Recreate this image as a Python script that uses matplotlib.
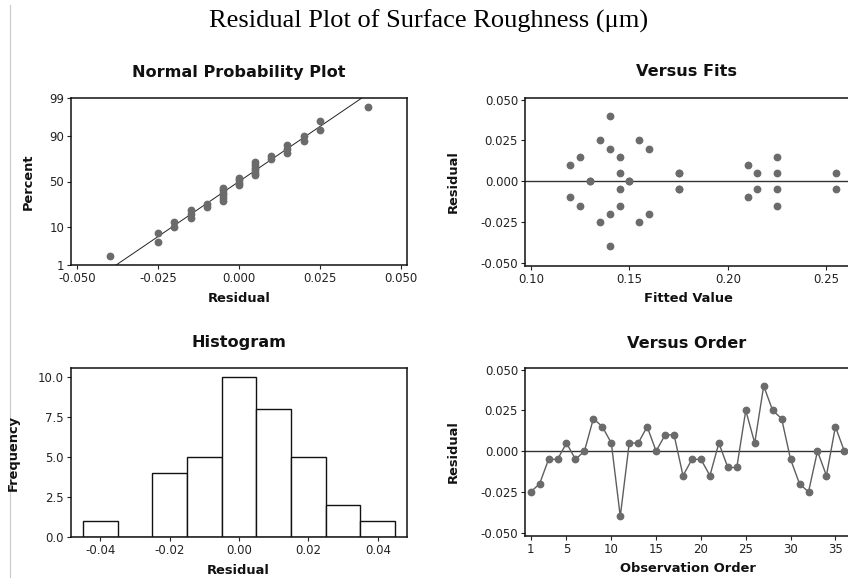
import matplotlib
matplotlib.use('Agg')
import matplotlib.pyplot as plt
import numpy as np
from statistics import NormalDist
from matplotlib.lines import Line2D

plt.rcParams['font.family'] = 'DejaVu Sans'
plt.rcParams['axes.unicode_minus'] = False

# residuals in observation order
order_residuals = [-0.025, -0.020, -0.005, -0.005, 0.005, -0.005, 0.000, 0.020, 0.015, 0.005,
                   -0.040, 0.005, 0.005, 0.015, 0.000, 0.010, 0.010, -0.015, -0.005, -0.005,
                   -0.015, 0.005, -0.010, -0.010, 0.025, 0.005, 0.040, 0.025, 0.020, -0.005,
                   -0.020, -0.025, 0.000, -0.015, 0.015, 0.000]

# fitted values and their residuals (Versus Fits panel)
fitted_values = [0.120, 0.120, 0.125, 0.125, 0.130, 0.130, 0.135, 0.135,
                 0.140, 0.140, 0.140, 0.140, 0.145, 0.145, 0.145, 0.145,
                 0.150, 0.150, 0.155, 0.155, 0.160, 0.160, 0.175, 0.175,
                 0.175, 0.175, 0.210, 0.210, 0.215, 0.215, 0.225, 0.225,
                 0.225, 0.225, 0.255, 0.255]
fit_residuals = [0.010, -0.010, 0.015, -0.015, 0.000, 0.000, 0.025, -0.025,
                 0.040, 0.020, -0.020, -0.040, 0.015, 0.005, -0.005, -0.015,
                 0.000, 0.000, 0.025, -0.025, 0.020, -0.020, 0.005, -0.005,
                 0.005, -0.005, 0.010, -0.010, 0.005, -0.005, 0.015, 0.005,
                 -0.005, -0.015, 0.005, -0.005]

# histogram bins
hist_centers = [-0.04, -0.03, -0.02, -0.01, 0.00, 0.01, 0.02, 0.03, 0.04]
hist_counts = [1, 0, 4, 5, 10, 8, 5, 2, 1]
hist_width = 0.01

prob_ticks = [1, 10, 50, 90, 99]

W, H = 848, 578
fig = plt.figure(figsize=(W / 100, H / 100), dpi=100)

def px_axes(l, t, r, b):
    return fig.add_axes([l / W, 1 - b / H, (r - l) / W, (b - t) / H])

def ftext(x, y, s, **kw):
    fig.text(x / W, 1 - y / H, s, ha='center', va='center', **kw)

def style(ax):
    for sp in ax.spines.values():
        sp.set_linewidth(1.1)
        sp.set_color('#111111')
    ax.tick_params(direction='out', length=3, width=0.8, labelsize=8.5,
                   pad=2, colors='#222222')

pt_color = '#6b6b6b'
ms = 4.6
nd = NormalDist()

# Normal probability plot
ax1 = px_axes(71, 98, 407, 265)
res = np.sort(np.array(order_residuals))
n = len(res)
pos = (np.arange(1, n + 1) - 0.3) / (n + 0.4)
zs = np.array([nd.inv_cdf(p) for p in pos])
zlo, zhi = nd.inv_cdf(0.01), nd.inv_cdf(0.99)
mu, sd = res.mean(), res.std(ddof=1)
zline = np.linspace(zlo, zhi, 50)
ax1.plot(mu + sd * zline, zline, color='#222222', lw=0.7)
ax1.plot(res, zs, 'o', color=pt_color, ms=ms, mec=pt_color)
ax1.set_xlim(-0.052, 0.052)
ax1.set_ylim(zlo, zhi)
ax1.set_yticks([nd.inv_cdf(p / 100) for p in prob_ticks])
ax1.set_yticklabels([str(p) for p in prob_ticks])
ax1.set_xticks([-0.05, -0.025, 0, 0.025, 0.05])
ax1.set_xticklabels(['-0.050', '-0.025', '0.000', '0.025', '0.050'])
style(ax1)

# Versus fits
ax2 = px_axes(525, 98, 850, 266)
ax2.axhline(0, color='#333333', lw=1.0)
ax2.plot(fitted_values, fit_residuals, 'o', color=pt_color, ms=ms, mec=pt_color)
ax2.set_xlim(0.097, 0.262)
ax2.set_ylim(-0.052, 0.051)
ax2.set_xticks([0.10, 0.15, 0.20, 0.25])
ax2.set_xticklabels(['0.10', '0.15', '0.20', '0.25'])
ax2.set_yticks([-0.05, -0.025, 0, 0.025, 0.05])
ax2.set_yticklabels(['-0.050', '-0.025', '0.000', '0.025', '0.050'])
style(ax2)

# Histogram
ax3 = px_axes(71, 368, 407, 537)
ax3.bar(hist_centers, hist_counts, width=hist_width, color='white',
        edgecolor='#111111', linewidth=1.0)
ax3.set_xlim(-0.0484, 0.0484)
ax3.set_ylim(0, 10.56)
ax3.set_xticks([-0.04, -0.02, 0, 0.02, 0.04])
ax3.set_xticklabels(['-0.04', '-0.02', '0.00', '0.02', '0.04'])
ax3.set_yticks([0, 2.5, 5, 7.5, 10])
ax3.set_yticklabels(['0.0', '2.5', '5.0', '7.5', '10.0'])
style(ax3)

# Versus order
ax4 = px_axes(525, 368, 850, 536)
obs = np.arange(1, len(order_residuals) + 1)
ax4.axhline(0, color='#333333', lw=1.0)
ax4.plot(obs, order_residuals, '-o', color='#5e5e5e', lw=1.0, ms=ms,
         mfc=pt_color, mec=pt_color)
ax4.set_xlim(0.37, 36.63)
ax4.set_ylim(-0.052, 0.051)
ax4.set_xticks([1, 5, 10, 15, 20, 25, 30, 35])
ax4.set_yticks([-0.05, -0.025, 0, 0.025, 0.05])
ax4.set_yticklabels(['-0.050', '-0.025', '0.000', '0.025', '0.050'])
style(ax4)

# titles and labels
ftext(429, 21, 'Residual Plot of Surface Roughness (\u03bcm)',
      family='Liberation Serif', fontsize=19)
tkw = dict(fontsize=11.6, fontweight='bold', color='#111111')
lkw = dict(fontsize=9.4, fontweight='bold', color='#111111')
ftext(239, 72, 'Normal Probability Plot', **tkw)
ftext(687, 72, 'Versus Fits', **tkw)
ftext(239, 343, 'Histogram', **tkw)
ftext(687, 344, 'Versus Order', **tkw)

ftext(239, 298, 'Residual', **lkw)
ftext(688, 298, 'Fitted Value', **lkw)
ftext(238, 570, 'Residual', **lkw)
ftext(688, 569, 'Observation Order', **lkw)
ftext(28, 182, 'Percent', rotation=90, **lkw)
ftext(453, 182, 'Residual', rotation=90, **lkw)
ftext(13, 453, 'Frequency', rotation=90, **lkw)
ftext(453, 452, 'Residual', rotation=90, **lkw)

# thin grey frame line on the left edge
fig.add_artist(Line2D([9.5 / W, 9.5 / W], [0, 1 - 5 / H], color='#c8c8c8', lw=0.8))

fig.savefig('out.png', dpi=100)
